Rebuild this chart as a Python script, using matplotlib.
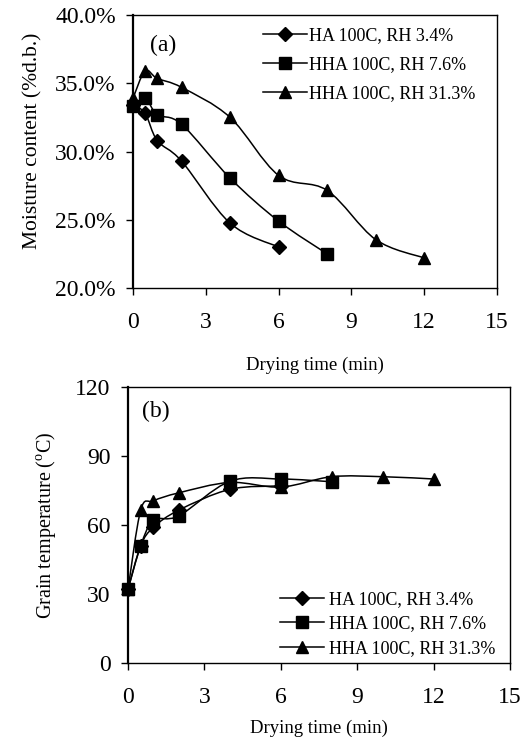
import matplotlib
matplotlib.use("Agg")
import matplotlib.pyplot as plt
from matplotlib.path import Path
from matplotlib.patches import PathPatch
from matplotlib.lines import Line2D
from matplotlib.ticker import FuncFormatter
import numpy as np

plt.rcParams['font.family'] = ['Liberation Serif', 'DejaVu Serif']
plt.rcParams['mathtext.fontset'] = 'custom'
plt.rcParams['mathtext.rm'] = 'Liberation Serif'

labels = ["HA 100C, RH 3.4%", "HHA 100C, RH 7.6%", "HHA 100C, RH 31.3%"]
markers = ['D', 's', '^']
msizes = [7, 8.5, 9]

# (a) moisture content (fraction d.b.)
t_ha = [0, 0.5, 1, 2, 4, 6]
mc_ha = [0.334, 0.328, 0.308, 0.293, 0.2475, 0.230]
t_hha76 = [0, 0.5, 1, 2, 4, 6, 8]
mc_hha76 = [0.333, 0.339, 0.327, 0.320, 0.2805, 0.249, 0.225]
t_hha313 = [0, 0.5, 1, 2, 4, 6, 8, 10, 12]
mc_hha313 = [0.339, 0.359, 0.3535, 0.347, 0.325, 0.2825, 0.2715, 0.2355, 0.222]

# (b) grain temperature (C)
temp_ha = [32, 51, 59, 66.5, 75.5, 77]
temp_hha76 = [32, 51, 62, 64, 79, 80, 78.8]
temp_hha313 = [32, 66.5, 70.5, 74, 78.5, 76.5, 81, 81, 80]

x_ticks = [0, 3, 6, 9, 12, 15]
mc_ticks = [0.20, 0.25, 0.30, 0.35, 0.40]
temp_ticks = [0, 30, 60, 90, 120]


def smooth_path(x, y):
    p = np.column_stack([x, y]).astype(float)
    n = len(p)
    verts = [p[0]]
    codes = [Path.MOVETO]
    for i in range(n - 1):
        p0 = p[i - 1] if i > 0 else p[i]
        p1 = p[i]
        p2 = p[i + 1]
        p3 = p[i + 2] if i + 2 < n else p[i + 1]
        c1 = p1 + (p2 - p0) / 6.0
        c2 = p2 - (p3 - p1) / 6.0
        verts += [c1, c2, p2]
        codes += [Path.CURVE4] * 3
    return Path(verts, codes)


def draw_series(ax, x, y, m, ms):
    ax.add_patch(PathPatch(smooth_path(x, y), fill=False, edgecolor='black',
                           lw=1.1, zorder=2))
    ax.plot(x, y, linestyle='none', marker=m, markersize=ms, color='black',
            zorder=3, clip_on=False)


fig = plt.figure(figsize=(5.23, 7.42), dpi=100)
W, H = 523, 742

ax1 = fig.add_axes([133 / W, 1 - 288 / H, (497 - 133) / W, (288 - 15) / H])
ax2 = fig.add_axes([128 / W, 1 - 663 / H, (510 - 128) / W, (663 - 387) / H])

draw_series(ax1, t_ha, mc_ha, markers[0], msizes[0])
draw_series(ax1, t_hha76, mc_hha76, markers[1], msizes[1])
draw_series(ax1, t_hha313, mc_hha313, markers[2], msizes[2])

draw_series(ax2, t_ha, temp_ha, markers[0], msizes[0])
draw_series(ax2, t_hha76, temp_hha76, markers[1], msizes[1])
draw_series(ax2, t_hha313, temp_hha313, markers[2], msizes[2])

ax1.set_xlim(0, 15)
ax1.set_ylim(0.20, 0.40)
ax1.set_yticks(mc_ticks)
ax1.yaxis.set_major_formatter(FuncFormatter(lambda v, p: f"{v*100:.1f}%"))
ax2.set_xlim(0, 15)
ax2.set_ylim(0, 120)
ax2.set_yticks(temp_ticks)

for ax in (ax1, ax2):
    ax.set_xticks(x_ticks)
    ax.tick_params(direction='out', length=5, width=1, labelsize=17)
    ax.tick_params(axis='x', pad=12)
    ax.tick_params(axis='y', pad=7.5)
    for s in ax.spines.values():
        s.set_linewidth(1.0)
    ax.spines['left'].set_linewidth(1.6)

ax1.set_xlabel("Drying time (min)", fontsize=13.5, labelpad=17)
ax2.set_xlabel("Drying time (min)", fontsize=13.5, labelpad=9)
ax1.set_ylabel("Moisture content (%d.b.)", fontsize=15.5)
ax1.yaxis.set_label_coords(-(133 - 42) / 364, (288 - 141) / 273)
ax2.set_ylabel("Grain temperature ($^{\\mathrm{o}}$C)", fontsize=14.5)
ax2.yaxis.set_label_coords(-(128 - 58) / 382, 0.5)

fig.text(150 / W, 1 - 45 / H, "(a)", fontsize=17, va='center', ha='left')
fig.text(142 / W, 1 - 411 / H, "(b)", fontsize=17, va='center', ha='left')

handles = [Line2D([], [], color='black', lw=1.1, marker=m, markersize=ms)
           for m, ms in zip(markers, msizes)]
leg_kw = dict(frameon=False, fontsize=13, handlelength=2.45,
              borderpad=0, borderaxespad=0, loc='upper left')
ax1.legend(handles, labels, bbox_to_anchor=(263 / W, 1 - 27 / H),
           bbox_transform=fig.transFigure, labelspacing=0.68,
           handletextpad=0.08, **leg_kw)
ax2.legend(handles, labels, bbox_to_anchor=(280 / W, 1 - 591 / H),
           bbox_transform=fig.transFigure, labelspacing=0.42,
           handletextpad=0.25, **leg_kw)

fig.savefig("out.png", dpi=100)
